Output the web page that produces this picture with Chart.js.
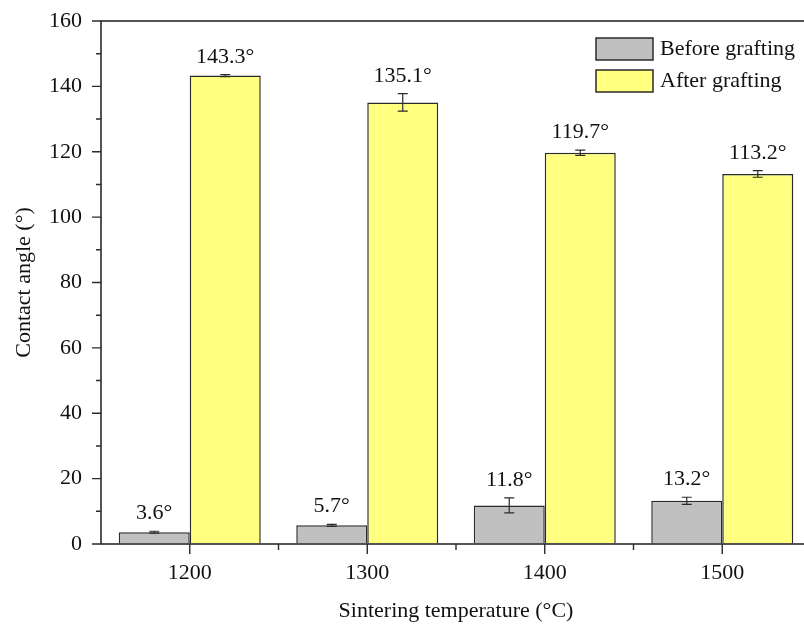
<!DOCTYPE html>
<html>
<head>
<meta charset="utf-8">
<script src="https://cdn.jsdelivr.net/npm/chart.js@4/dist/chart.umd.min.js"></script>
<style>
  html, body { margin: 0; padding: 0; background: #fff; overflow: hidden; }
  #wrap { width: 816px; height: 625px; }
</style>
</head>
<body>
<div id="wrap"><canvas id="chart" width="816" height="625"></canvas></div>
<script>
// Contact angle of the membranes before and after grafting, per sintering temperature
const temperatures = ['1200', '1300', '1400', '1500'];
const beforeGrafting = [3.6, 5.7, 11.8, 13.2];
const beforeGraftingErr = [0.3, 0.3, 2.3, 1.1];
const afterGrafting = [143.3, 135.1, 119.7, 113.2];
const afterGraftingErr = [0.3, 2.7, 0.8, 1.0];
const yTickValues = [0, 20, 40, 60, 80, 100, 120, 140, 160];

const FONT = 'Liberation Serif, "Times New Roman", serif';
const INK = '#2b2b2b';

// Error bars plus value labels above each bar
const errorBarPlugin = {
  id: 'errorBars',
  afterDatasetsDraw(chart) {
    const { ctx, scales: { y } } = chart;
    ctx.save();
    chart.data.datasets.forEach((ds, di) => {
      const meta = chart.getDatasetMeta(di);
      meta.data.forEach((bar, i) => {
        const v = ds.data[i];
        const e = ds.errors[i];
        const yTop = y.getPixelForValue(v + e);
        const yBot = y.getPixelForValue(v - e);
        const x = bar.x;
        ctx.strokeStyle = INK;
        ctx.lineWidth = 1.2;
        ctx.beginPath();
        ctx.moveTo(x, yTop); ctx.lineTo(x, yBot);
        ctx.moveTo(x - 5, yTop); ctx.lineTo(x + 5, yTop);
        ctx.moveTo(x - 5, yBot); ctx.lineTo(x + 5, yBot);
        ctx.stroke();
        ctx.fillStyle = '#111';
        ctx.font = '22px ' + FONT;
        ctx.textAlign = 'center';
        ctx.textBaseline = 'alphabetic';
        ctx.fillText(v.toFixed(1) + '\u00B0', x, yTop - 12);
      });
    });
    ctx.restore();
  }
};

// Axis frame, tick marks and legend
const framePlugin = {
  id: 'frame',
  afterDraw(chart) {
    const { ctx, chartArea: a, scales: { x, y } } = chart;
    ctx.save();
    ctx.strokeStyle = INK;
    ctx.lineWidth = 1.6;
    ctx.strokeRect(a.left, a.top, a.right - a.left, a.bottom - a.top);

    ctx.lineWidth = 1.4;
    ctx.beginPath();
    // y axis: major ticks every 20, minor every 10
    for (let v = 0; v <= 160; v += 10) {
      const py = y.getPixelForValue(v);
      const len = v % 20 === 0 ? 9 : 5;
      ctx.moveTo(a.left - len, py); ctx.lineTo(a.left, py);
    }
    // x axis: major ticks at categories, minor ticks midway
    const n = temperatures.length;
    for (let i = 0; i < n; i++) {
      const px = x.getPixelForValue(i);
      ctx.moveTo(px, a.bottom); ctx.lineTo(px, a.bottom + 10);
      if (i < n - 1) {
        const mx = (px + x.getPixelForValue(i + 1)) / 2;
        ctx.moveTo(mx, a.bottom); ctx.lineTo(mx, a.bottom + 6);
      }
    }
    ctx.stroke();

    // legend
    const items = chart.data.datasets;
    ctx.font = '22px ' + FONT;
    ctx.textAlign = 'left';
    ctx.textBaseline = 'middle';
    items.forEach((ds, i) => {
      const top = 38 + i * 32;
      ctx.fillStyle = ds.backgroundColor;
      ctx.fillRect(596, top, 57, 22);
      ctx.lineWidth = 1.5;
      ctx.strokeStyle = INK;
      ctx.strokeRect(596, top, 57, 22);
      ctx.fillStyle = '#111';
      ctx.fillText(ds.label, 660, top + 11);
    });
    ctx.restore();
  }
};

new Chart(document.getElementById('chart'), {
  type: 'bar',
  data: {
    labels: temperatures,
    datasets: [
      {
        label: 'Before grafting',
        data: beforeGrafting,
        errors: beforeGraftingErr,
        backgroundColor: '#c0c0c0',
        borderColor: INK,
        borderWidth: 1.5,
        borderSkipped: 'start'
      },
      {
        label: 'After grafting',
        data: afterGrafting,
        errors: afterGraftingErr,
        backgroundColor: '#ffff80',
        borderColor: INK,
        borderWidth: 1.5,
        borderSkipped: 'start'
      }
    ]
  },
  options: {
    responsive: false,
    animation: false,
    devicePixelRatio: 1,
    layout: { padding: { top: 21, right: 5, left: 0, bottom: 0 } },
    datasets: { bar: { barPercentage: 1, categoryPercentage: 0.8 } },
    plugins: { legend: { display: false }, tooltip: { enabled: false } },
    scales: {
      x: {
        grid: { display: false, drawTicks: false },
        border: { display: false },
        ticks: { color: '#111', font: { family: FONT, size: 22 }, padding: 16 },
        title: {
          display: true,
          text: 'Sintering temperature (\u00B0C)',
          color: '#111',
          font: { family: FONT, size: 22 },
          padding: { top: 0, bottom: 1 }
        },
        afterFit(scale) { scale.height = 81; }
      },
      y: {
        min: 0,
        max: 160,
        // tick marks are drawn by the frame plugin; this only spaces the labels
        grid: {
          display: true,
          drawOnChartArea: false,
          drawTicks: true,
          tickLength: 19,
          color: 'rgba(0,0,0,0)'
        },
        border: { display: false },
        afterBuildTicks(scale) { scale.ticks = yTickValues.map(v => ({ value: v })); },
        ticks: { color: '#111', font: { family: FONT, size: 22 }, padding: 0 },
        title: {
          display: true,
          text: 'Contact angle (\u00B0)',
          color: '#111',
          font: { family: FONT, size: 22 },
          padding: { top: 11, bottom: 4 }
        },
        afterFit(scale) { scale.width = 101; }
      }
    }
  },
  plugins: [errorBarPlugin, framePlugin]
});
</script>
</body>
</html>
